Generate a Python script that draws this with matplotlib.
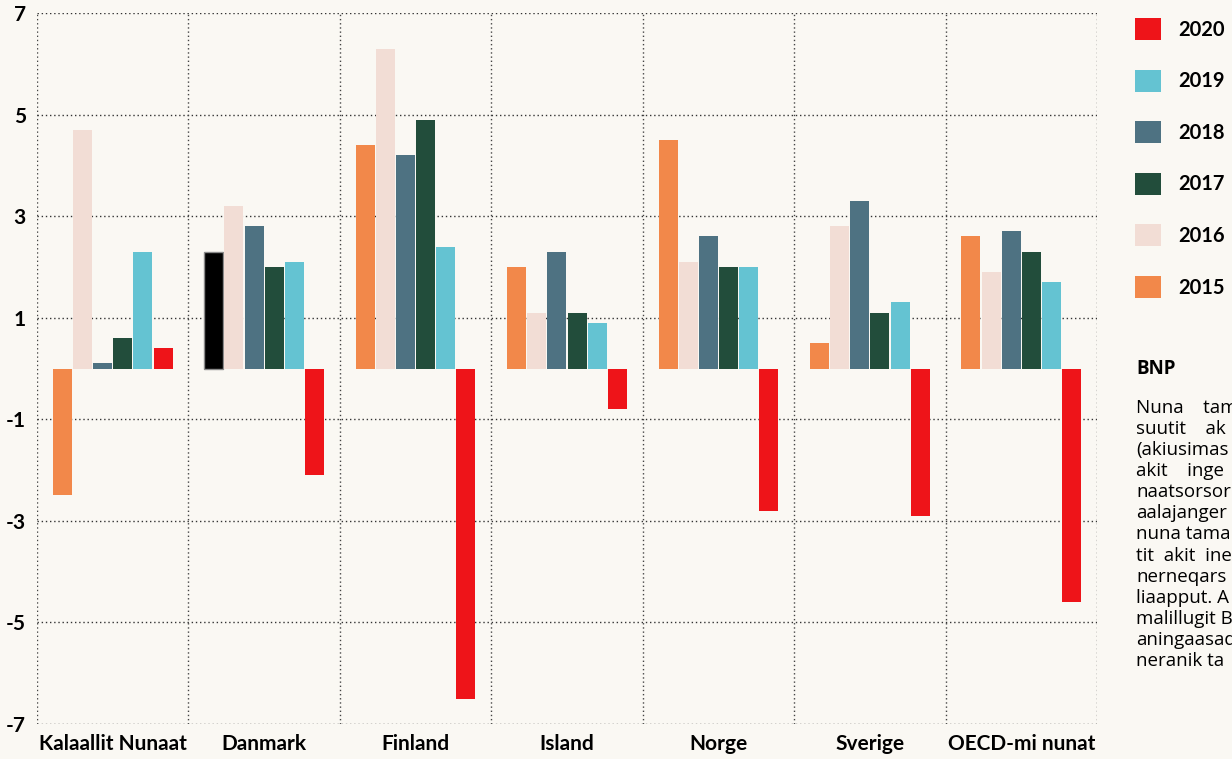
import numpy as np
import matplotlib.pyplot as plt
from matplotlib.patches import Patch

# data (BNP growth, %)
countries = ["Kalaallit Nunaat", "Danmark", "Finland", "Island", "Norge", "Sverige", "OECD-mi nunat"]
# bar order left to right inside each group
years = ["2015", "2016", "2018", "2017", "2019", "2020"]
vals_2015 = [-2.5, 2.3, 4.4, 2.0, 4.5, 0.5, 2.6]
vals_2016 = [4.7, 3.2, 6.3, 1.1, 2.1, 2.8, 1.9]
vals_2018 = [0.1, 2.8, 4.2, 2.3, 2.6, 3.3, 2.7]
vals_2017 = [0.6, 2.0, 4.9, 1.1, 2.0, 1.1, 2.3]
vals_2019 = [2.3, 2.1, 2.4, 0.9, 2.0, 1.3, 1.7]
vals_2020 = [0.4, -2.1, -6.5, -0.8, -2.8, -2.9, -4.6]
series = [vals_2015, vals_2016, vals_2018, vals_2017, vals_2019, vals_2020]
colors = ["#F2884A", "#F2DDD5", "#4E7282", "#224D3B", "#64C3D2", "#EE1419"]
legend_order = ["2020", "2019", "2018", "2017", "2016", "2015"]

yticks = [-7, -5, -3, -1, 1, 3, 5, 7]
ytick_labels = ["-7", "-5", "-3", "-1", "1", "3", "5", "7"]

# side note, cut off by the right edge of the picture as in the reference
text_title = "BNP"
text_lines = [
    "Nuna    tam",
    "suutit    ak",
    "(akiusimas",
    "akit    inge",
    "naatsorsor",
    "aalajanger",
    "nuna tama",
    "tit  akit  ine",
    "nerneqars",
    "liaapput. A",
    "malillugit B",
    "aningaasad",
    "neranik ta",
]

bg = "#FAF8F3"
plt.rcParams["font.family"] = ["Lato", "DejaVu Sans"]

fig = plt.figure(figsize=(12.32, 7.59), dpi=100, facecolor=bg)
ax = fig.add_axes([37 / 1232, 35 / 759, 1060 / 1232, 711 / 759])
ax.set_facecolor(bg)

x = np.arange(len(countries))
pitch = 0.133
width = 0.125
handles = {}
for j, (yr, vals, c) in enumerate(zip(years, series, colors)):
    ax.bar(x + (j - 2.5) * pitch, vals, width=width, color=c, zorder=3)
    handles[yr] = Patch(facecolor=c)
# Danmark 2015 bar is shown highlighted (black) in the reference
hl = ax.patches[1]
hl.set_facecolor("black")
hl.set_edgecolor("#8a8a8a")
hl.set_linewidth(1)

ax.set_xlim(-0.5, len(countries) - 0.5)
ax.set_ylim(-7, 7)
for yv in yticks:
    ax.axhline(yv, color="#333333", lw=1, ls=(0, (1, 2)), zorder=1)
for xv in np.arange(len(countries) + 1) - 0.5:
    ax.axvline(xv, color="#444444", lw=1, ls=(0, (1, 2)), zorder=1)

for s in ax.spines.values():
    s.set_visible(False)
ax.set_yticks(yticks)
ax.set_yticklabels(ytick_labels, fontsize=15, fontweight="bold")
ax.set_xticks(x)
ax.set_xticklabels(countries, fontsize=15, fontweight="bold")
ax.tick_params(axis="x", length=0, pad=7)
ax.tick_params(axis="y", length=0, pad=8)

leg = fig.legend([handles[y] for y in legend_order], legend_order,
                 loc="upper left", bbox_to_anchor=(1127 / 1232, 1 - 10 / 759),
                 frameon=False, fontsize=14.5, handlelength=1.3, handleheight=1.3,
                 labelspacing=1.47, handletextpad=0.85, borderaxespad=0)
for t in leg.get_texts():
    t.set_fontweight("bold")

fig.text(1136 / 1232, 1 - 369 / 759, text_title, fontsize=13.5, fontweight="bold",
         family="Open Sans", va="center", ha="left")
fig.text(1136 / 1232, 1 - 399 / 759, "\n".join(text_lines), fontsize=13.5,
         family="Open Sans", va="top", ha="left", linespacing=1.22)

fig.savefig("out.png", dpi=100, facecolor=bg)
